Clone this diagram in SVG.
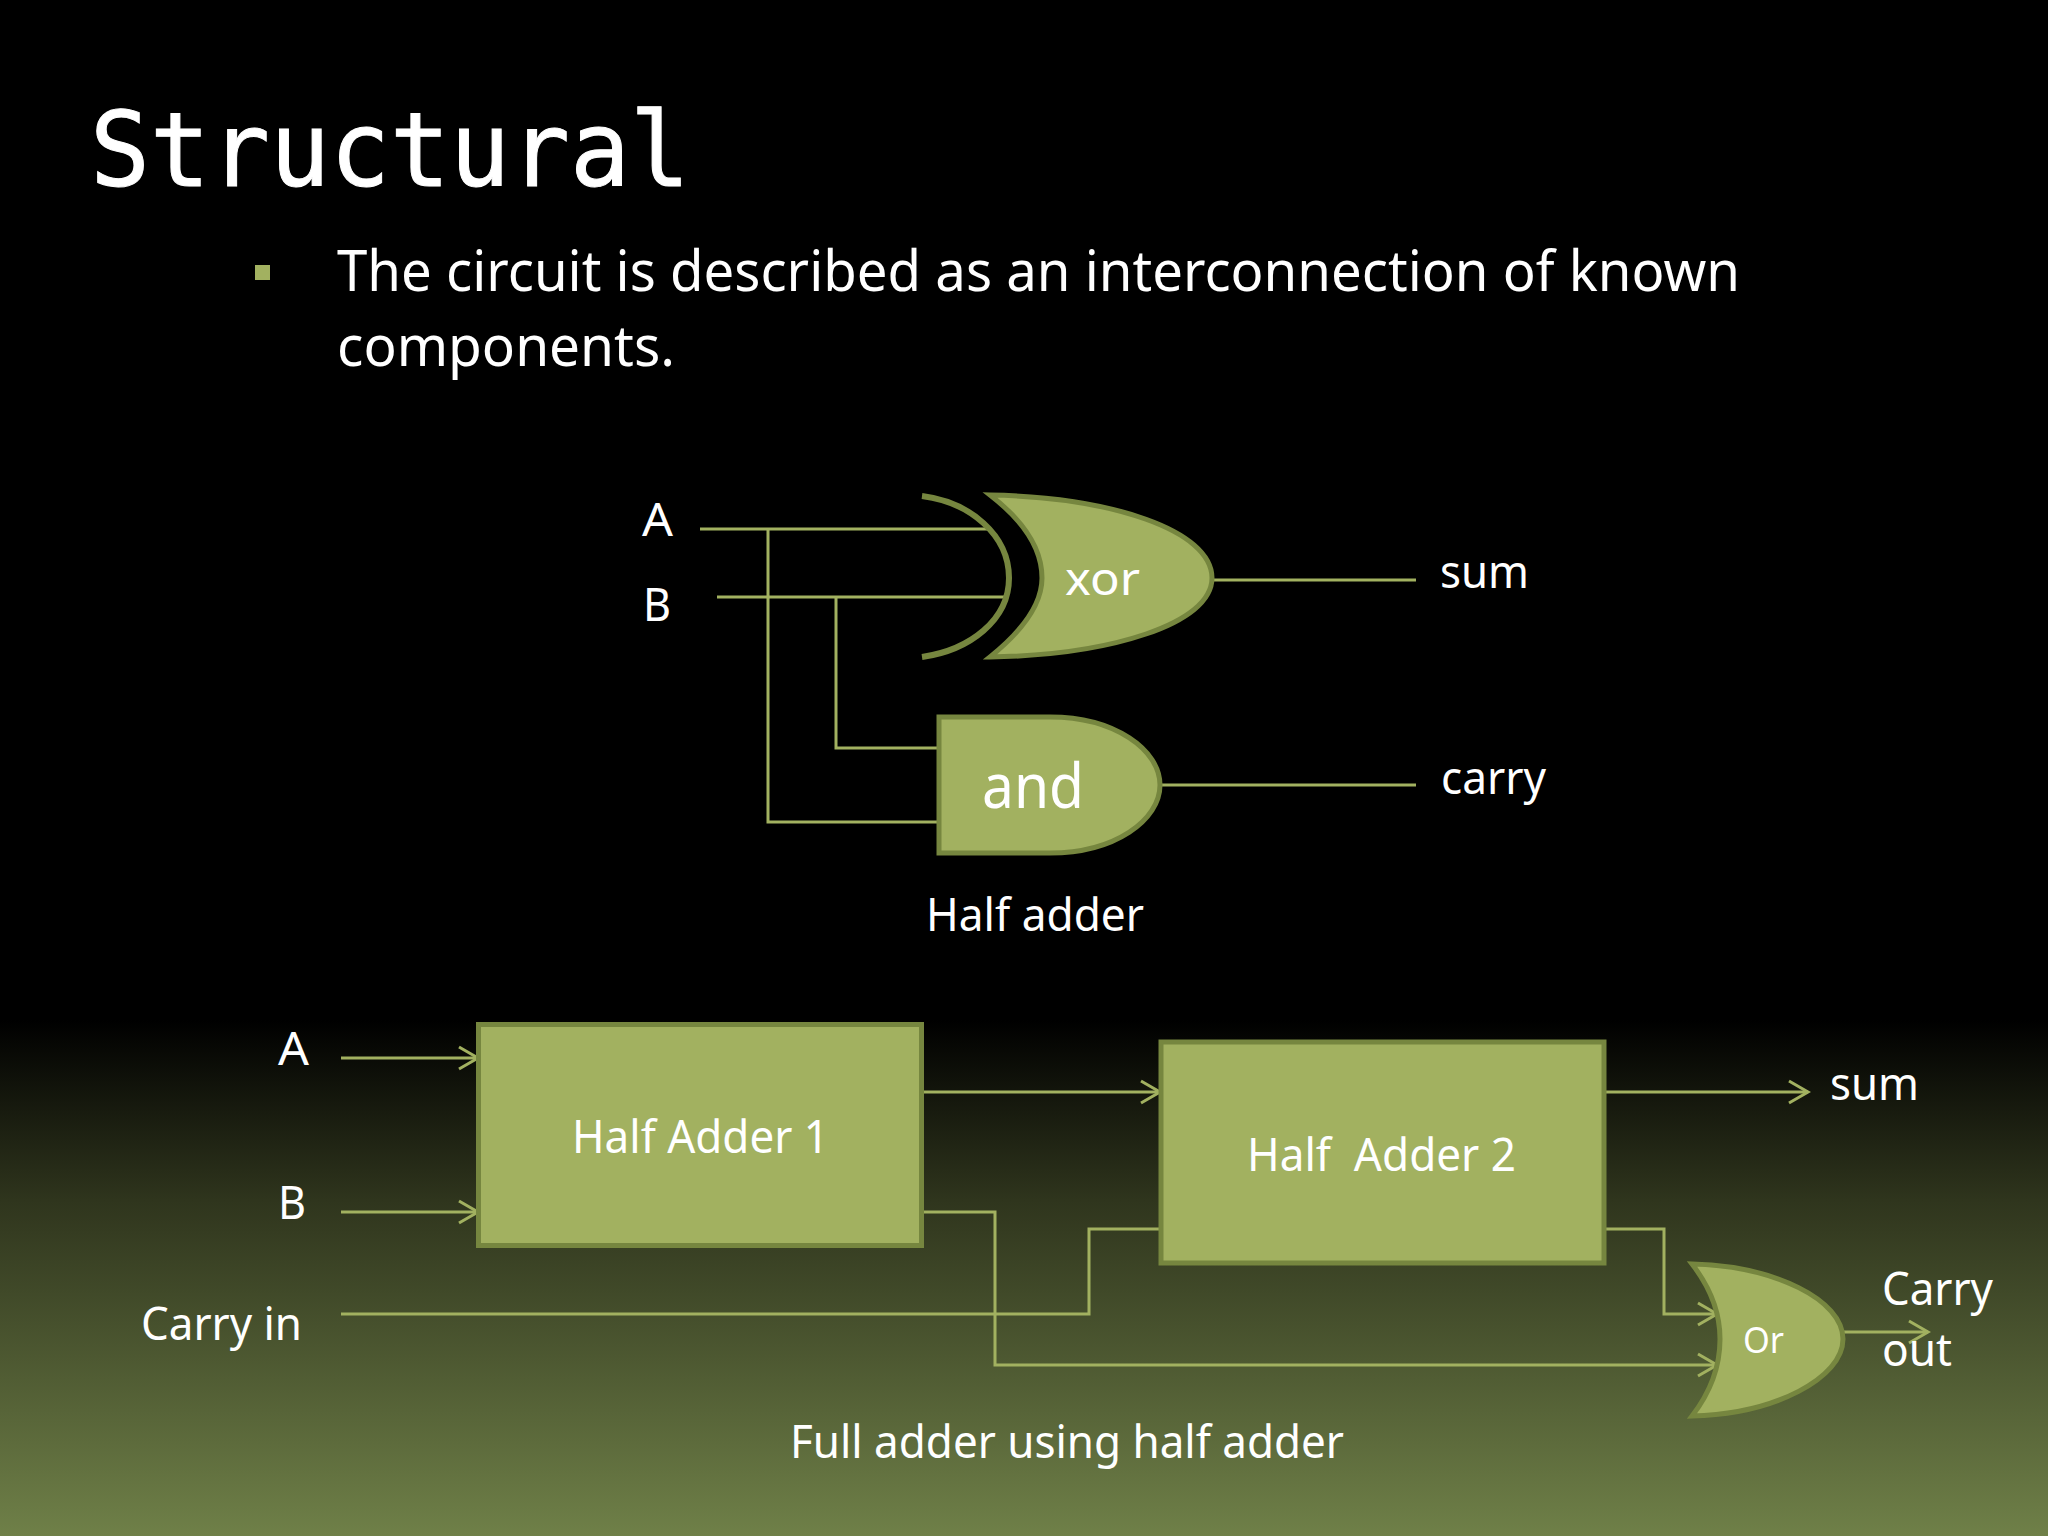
<svg xmlns="http://www.w3.org/2000/svg" width="2048" height="1536" viewBox="0 0 2048 1536">
<style>
text{fill:#fff;font-family:"Noto Sans","Open Sans",sans-serif;font-weight:400}
.gate{fill:#a2b160;stroke:#76863f;stroke-width:5;stroke-linejoin:miter}
.w{fill:none;stroke:#a2b160;stroke-width:3}
.h{fill:none;stroke:#76863f;stroke-width:6}
.t46{font-size:46px}
.t57{font-size:57px}
</style>
<defs>
<linearGradient id="bg" x1="0" y1="0" x2="0" y2="1"><stop offset="0" stop-color="#000"/><stop offset="0.35" stop-color="#2f351d"/><stop offset="1" stop-color="#6f8048"/></linearGradient>
<marker id="arr" markerWidth="24" markerHeight="26" refX="21" refY="13" orient="auto" markerUnits="userSpaceOnUse"><path d="M2 2L21 13L2 24" fill="none" stroke="#a2b160" stroke-width="3"/></marker>
</defs>
<rect width="2048" height="1536" fill="#000"/>
<rect y="1020" width="2048" height="516" fill="url(#bg)"/>
<text x="90" y="186" textLength="600" lengthAdjust="spacingAndGlyphs" style="font-family:'DejaVu Sans Mono',monospace;font-size:104px;stroke:#fff;stroke-width:1">Structural</text>
<rect x="255" y="265" width="15" height="15" fill="#a2b160"/>
<text class="t57" x="337" y="291" textLength="1403" lengthAdjust="spacingAndGlyphs">The circuit is described as an interconnection of known</text>
<text class="t57" x="337" y="366" textLength="338" lengthAdjust="spacingAndGlyphs">components.</text>
<g id="connectors">
<path class="w" d="M700 529H989M717 597H1006M768 529V822H938M836 597V748H938M1213 580H1416M1161 785H1416"/>
<path class="w" marker-end="url(#arr)" d="M341 1058H478"/>
<path class="w" marker-end="url(#arr)" d="M341 1212H478"/>
<path class="w" marker-end="url(#arr)" d="M922 1092H1160"/>
<path class="w" marker-end="url(#arr)" d="M1604 1092H1808"/>
<path class="w" marker-end="url(#arr)" d="M922 1212H995V1365H1717"/>
<path class="w" marker-end="url(#arr)" d="M341 1314H1089V1229H1160M1604 1229H1664V1314H1717"/>
<path class="w" marker-end="url(#arr)" d="M1843 1332H1928"/>
</g>
<g id="xor">
<path class="h" d="M922 496C970 502 1009 535 1009 578C1009 620 970 650 922 657"/>
<path class="gate" d="M990 495C1110 497 1212 530 1212 578C1212 624 1110 655 990 657Q1042 615 1042 578Q1042 535 990 495Z"/>
<text class="t46" x="1065" y="595" textLength="75" lengthAdjust="spacingAndGlyphs">xor</text>
</g>
<g id="and">
<path class="gate" d="M939 717H1050C1115 717 1160 750 1160 785C1160 820 1115 853 1050 853H939Z"/>
<text x="982" y="808" textLength="102" lengthAdjust="spacingAndGlyphs" style="font-size:62px">and</text>
</g>
<g id="half-adder-1">
<rect class="gate" x="478.500" y="1024.500" width="443" height="221"/>
<text class="t46" x="572" y="1153" textLength="257" lengthAdjust="spacingAndGlyphs">Half Adder 1</text>
</g>
<g id="half-adder-2">
<rect class="gate" x="1161" y="1042" width="443" height="221"/>
<text class="t46" x="1247" y="1171" textLength="269" lengthAdjust="spacingAndGlyphs" xml:space="preserve">Half  Adder 2</text>
</g>
<g id="or">
<path class="gate" d="M1692 1264C1775 1266 1843 1300 1843 1339C1843 1378 1775 1414 1692 1416Q1720 1380 1720 1339Q1720 1300 1692 1264Z"/>
<text x="1743" y="1353" textLength="41" lengthAdjust="spacingAndGlyphs" style="font-size:36px">Or</text>
</g>
<g id="labels">
<text class="t46" x="642" y="536" textLength="31" lengthAdjust="spacingAndGlyphs">A</text>
<text class="t46" x="643" y="621" textLength="28" lengthAdjust="spacingAndGlyphs">B</text>
<text class="t46" x="1440" y="588" textLength="89" lengthAdjust="spacingAndGlyphs">sum</text>
<text class="t46" x="1441" y="794" textLength="105" lengthAdjust="spacingAndGlyphs">carry</text>
<text class="t46" x="926" y="931" textLength="218" lengthAdjust="spacingAndGlyphs">Half adder</text>
<text class="t46" x="278" y="1065" textLength="31" lengthAdjust="spacingAndGlyphs">A</text>
<text class="t46" x="278" y="1219" textLength="28" lengthAdjust="spacingAndGlyphs">B</text>
<text class="t46" x="141" y="1340" textLength="161" lengthAdjust="spacingAndGlyphs">Carry in</text>
<text class="t46" x="1830" y="1100" textLength="89" lengthAdjust="spacingAndGlyphs">sum</text>
<text class="t46" x="1882" y="1305" textLength="111" lengthAdjust="spacingAndGlyphs">Carry</text>
<text class="t46" x="1882" y="1366" textLength="70" lengthAdjust="spacingAndGlyphs">out</text>
<text class="t46" x="790" y="1458" textLength="554" lengthAdjust="spacingAndGlyphs">Full adder using half adder</text>
</g>
</svg>
